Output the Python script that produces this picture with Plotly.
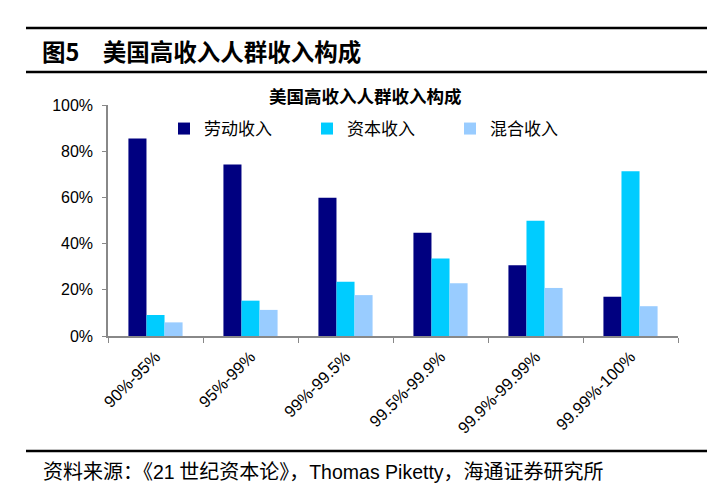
import plotly.graph_objects as go

categories = ["90%-95%", "95%-99%", "99%-99.5%", "99.5%-99.9%", "99.9%-99.99%", "99.99%-100%"]
labor = [85.5, 74.2, 59.9, 44.7, 30.6, 17.0]
capital = [9.1, 15.3, 23.5, 33.6, 49.9, 71.3]
mixed = [5.9, 11.3, 17.7, 22.8, 20.8, 12.9]
series_names = ["劳动收入", "资本收入", "混合收入"]
y_ticks = [0, 20, 40, 60, 80, 100]
y_tick_labels = ["0%", "20%", "40%", "60%", "80%", "100%"]

W, H = 717, 497
colors = ["#000080", "#00CCFF", "#99CCFF"]

fig = go.Figure()
for vals, name, c in zip([labor, capital, mixed], series_names, colors):
    fig.add_trace(go.Bar(x=categories, y=vals, name=name, marker_color=c,
                         marker_line_width=0))

def px_x(v):
    return v / W

def px_y(v):
    return 1 - v / H

latin = "font-family:Liberation Sans;font-size:19.5px"
source_text = ("资料来源：《<span style='%s'>21</span> 世纪资本论》，"
               "<span style='%s'>Thomas Piketty</span>，海通证券研究所") % (latin, latin)

fig.update_layout(
    template="none",
    width=W, height=H,
    margin=dict(l=0, r=0, t=0, b=0, autoexpand=False),
    paper_bgcolor="white", plot_bgcolor="white",
    barmode="group", bargap=0.43, bargroupgap=0,
    showlegend=True,
    legend=dict(orientation="h", bgcolor="rgba(0,0,0,0)",
                font=dict(family="Noto Sans CJK SC", size=17, color="#000"),
                x=px_x(164), y=px_y(129), xanchor="left", yanchor="middle",
                itemwidth=30, entrywidth=98, entrywidthmode="pixels",
                borderwidth=0),
    xaxis=dict(domain=[px_x(108), px_x(678)], tickson="boundaries", ticks="outside",
               ticklen=5, tickcolor="#888888", showline=True, linecolor="#888888",
               linewidth=1.5, tickangle=-45, showgrid=False, automargin=False,
               ticklabelstandoff=3,
               tickfont=dict(family="Liberation Sans", size=16.5, color="#000")),
    yaxis=dict(domain=[px_y(336), px_y(105)], range=[0, 100], tickvals=y_ticks,
               ticktext=y_tick_labels, ticks="outside", ticklen=4, tickcolor="#888888",
               showline=True, linecolor="#888888", linewidth=1.5, showgrid=False,
               zeroline=False, automargin=False, ticklabelstandoff=6,
               tickfont=dict(family="Liberation Sans", size=16, color="#000")),
    shapes=[
        dict(type="line", xref="paper", yref="paper", x0=px_x(26), x1=px_x(707),
             y0=px_y(28), y1=px_y(28), line=dict(color="#000", width=2.7)),
        dict(type="line", xref="paper", yref="paper", x0=px_x(26), x1=px_x(707),
             y0=px_y(72), y1=px_y(72), line=dict(color="#000", width=2.7)),
        dict(type="line", xref="paper", yref="paper", x0=px_x(26), x1=px_x(707),
             y0=px_y(451), y1=px_y(451), line=dict(color="#000", width=2.7)),
    ],
    annotations=[
        dict(text="<b>图5\u3000美国高收入人群收入构成</b>", xref="paper", yref="paper",
             x=px_x(40), y=px_y(51), xanchor="left", yanchor="middle", showarrow=False,
             font=dict(family="Noto Sans CJK SC", size=23.5, color="#000")),
        dict(text="<b>美国高收入人群收入构成</b>", xref="paper", yref="paper",
             x=px_x(365), y=px_y(96), xanchor="center", yanchor="middle", showarrow=False,
             font=dict(family="Noto Sans CJK SC", size=17.5, color="#000")),
        dict(text=source_text, xref="paper", yref="paper",
             x=px_x(41), y=px_y(470), xanchor="left", yanchor="middle", showarrow=False,
             font=dict(family="Noto Sans CJK SC", size=20, color="#000")),
    ],
)

fig.write_html("out.html", config={"displayModeBar": False},
               post_script="document.body.style.margin='0';document.body.style.overflow='hidden';")
